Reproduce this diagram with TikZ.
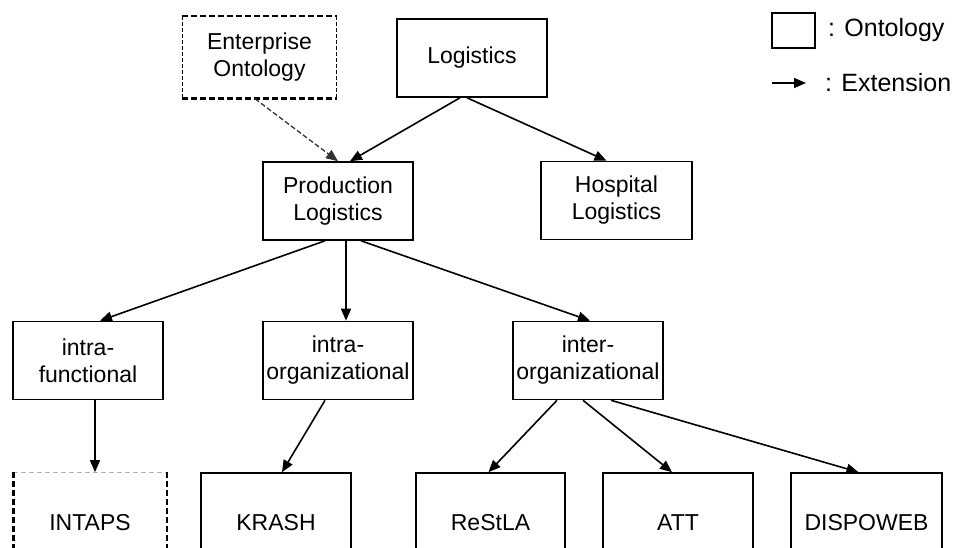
\documentclass[tikz,border=0pt]{standalone}
\usepackage{fontspec}
\setmainfont{Liberation Sans}
\usetikzlibrary{arrows.meta, positioning, calc}

\begin{document}
\begin{tikzpicture}[x=1pt, y=-1pt,
  txt/.style={font=\fontsize{23}{27}\selectfont},
  onto/.style={txt, draw, line width=1.6pt, minimum width=150pt, minimum height=78pt, align=center, inner sep=0pt},
  leaf/.style={onto, minimum height=100pt},
  ext/.style={line width=1.6pt, -{Triangle[length=12pt,width=10pt]}}]
  \useasboundingbox (0,0) rectangle (962,548);
  \clip (0,0) rectangle (962,548);

  % Ontologies
  \node[onto, draw=none, minimum width=153pt, minimum height=81pt] (enterprise) at (259.5,57.5) {Enterprise\\Ontology};
  \node[onto] (logistics) at (472,58) {Logistics};
  \node[onto] (prod) at (338,201) {Production\\Logistics};
  \node[onto, minimum width=151pt] (hospital) at (616.5,200.5) {Hospital\\Logistics};
  \node[onto] (intrafunc) at (88,360.5) {intra-\\functional};
  \node[onto] (intraorg) at (338,360.5) {intra-\\organizational};
  \node[onto] (interorg) at (588,360.5) {inter-\\organizational};
  \node[leaf, draw=none, minimum width=152pt] (intaps) at (90,523) {INTAPS};
  \node[leaf] (krash) at (276,523) {KRASH};
  \node[leaf, minimum width=149pt] (restla) at (490.5,523) {ReStLA};
  \node[leaf] (att) at (678,523) {ATT};
  \node[leaf, minimum width=151pt] (dispoweb) at (866.5,523) {DISPOWEB};

  % dashed borders
  \draw[line width=2.6pt, dash pattern=on 6pt off 3pt] (enterprise.north west) -- (enterprise.north east);
  \draw[line width=2.6pt, dash pattern=on 6pt off 3pt] (enterprise.south west) -- (enterprise.south east);
  \draw[line width=1.2pt, dash pattern=on 4pt off 2pt] (enterprise.north west) -- (enterprise.south west);
  \draw[line width=1.2pt, dash pattern=on 4pt off 2pt] (enterprise.north east) -- (enterprise.south east);
  \draw[gray!60, line width=0.8pt, dash pattern=on 5pt off 3pt] (intaps.north west) -- (intaps.north east);
  \draw[line width=2.6pt, dash pattern=on 6pt off 3pt] (intaps.north west) -- (intaps.south west);
  \draw[line width=2.6pt, dash pattern=on 6pt off 3pt] (intaps.north east) -- (intaps.south east);

  % Extensions
  \draw[ext, line width=1.3pt, black!80, dash pattern=on 5pt off 2.5pt] ([xshift=-4.5pt]enterprise.south) -- (prod.north);
  \draw[ext] ([xshift=-12pt]logistics.south) -- ([xshift=12pt]prod.north);
  \draw[ext] ([xshift=-5pt]logistics.south) -- ([xshift=-10pt]hospital.north);
  \draw[ext] ([xshift=-13pt]prod.south) -- ([xshift=12pt]intrafunc.north);
  \draw[ext] ([xshift=8pt]prod.south) -- ([xshift=8pt]intraorg.north);
  \draw[ext] ([xshift=23pt]prod.south) -- ([xshift=2pt]interorg.north);
  \draw[ext] ([xshift=7pt]intrafunc.south) -- ([xshift=5pt]intaps.north);
  \draw[ext] ([xshift=-13pt]intraorg.south) -- ([xshift=6pt]krash.north);
  \draw[ext] ([xshift=-31pt]interorg.south) -- ([xshift=-2pt]restla.north);
  \draw[ext] ([xshift=-5pt]interorg.south) -- ([xshift=-6pt]att.north);
  \draw[ext] ([xshift=23pt]interorg.south) -- ([xshift=-8pt]dispoweb.north);

  % Legend
  \node[draw, line width=1.6pt, minimum width=43pt, minimum height=35pt, inner sep=0pt] (legbox) at (793.5,30.5) {};
  \node[txt, font=\fontsize{25}{27}\selectfont, anchor=west, inner sep=0pt] (legonto) at (828,30.5) {: Ontology};
  \coordinate (legfrom) at (772,83);
  \coordinate (legto) at (806,83);
  \draw[ext] (legfrom) -- (legto);
  \node[txt, font=\fontsize{25}{27}\selectfont, anchor=west, inner sep=0pt] (legext) at (825,83) {: Extension};
\end{tikzpicture}
\end{document}
